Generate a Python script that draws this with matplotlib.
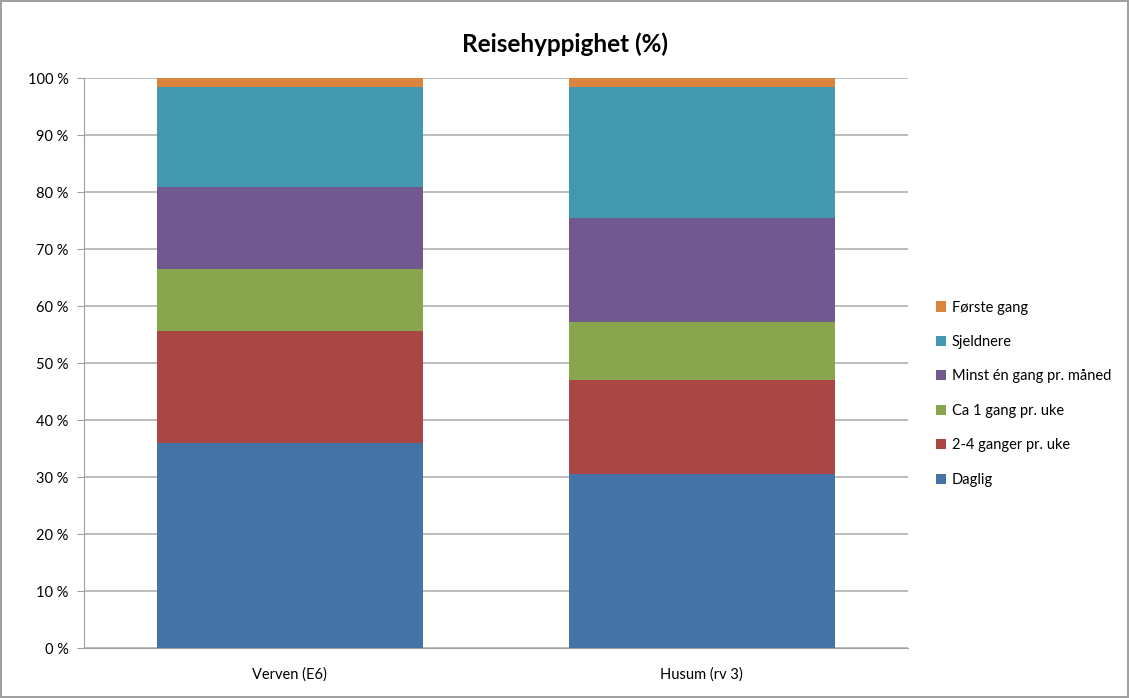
import numpy as np
import matplotlib.pyplot as plt
from matplotlib.ticker import FuncFormatter

# Data (prosent)
steder = ['Verven (E6)', 'Husum (rv 3)']
kategorier = ['Daglig', '2-4 ganger pr. uke', 'Ca 1 gang pr. uke',
              'Minst én gang pr. måned', 'Sjeldnere', 'Første gang']
verdier = {
    'Daglig': [36.0, 30.6],
    '2-4 ganger pr. uke': [19.6, 16.5],
    'Ca 1 gang pr. uke': [10.9, 10.1],
    'Minst én gang pr. måned': [14.5, 18.2],
    'Sjeldnere': [17.4, 23.0],
    'Første gang': [1.6, 1.6],
}
farger = ['#4572A7', '#AA4643', '#89A54E', '#71588F', '#4198AF', '#DB843D']

plt.rcParams['font.family'] = ['Lato', 'DejaVu Sans']

fig = plt.figure(figsize=(11.29, 6.98), dpi=100)
fig.patch.set_edgecolor('#A0A0A0')
fig.patch.set_linewidth(1.5)
ax = fig.add_axes([0.0744, 0.0712, 0.7296, 0.8168])

x = np.arange(len(steder))
bunn = np.zeros(len(steder))
for kat, farge in zip(kategorier, farger):
    v = np.array(verdier[kat])
    ax.bar(x, v, width=0.646, bottom=bunn, color=farge, label=kat, zorder=3)
    bunn += v

ax.set_xlim(-0.5, 1.5)
ax.set_ylim(0, 100)
ax.set_yticks(np.arange(0, 101, 10))
ax.yaxis.set_major_formatter(FuncFormatter(lambda v, p: f'{int(v)} %'))
ax.set_xticks(x)
ax.set_xticklabels(steder)
ax.grid(axis='y', color='#B0B0B0', linewidth=1.2, zorder=0)
for s in ['top', 'right']:
    ax.spines[s].set_visible(False)
ax.spines['left'].set_color('#A0A0A0')
ax.spines['bottom'].set_color('#A0A0A0')
ax.tick_params(axis='y', length=5, color='#A0A0A0', labelsize=10.5, pad=6)
ax.tick_params(axis='x', length=0, labelsize=10.5, pad=14)

fig.suptitle('Reisehyppighet (%)', x=0.5, y=0.953, fontsize=17.5, fontweight='bold')

h, l = ax.get_legend_handles_labels()
fig.legend(h[::-1], l[::-1], loc='center left', bbox_to_anchor=(0.817, 0.436),
           frameon=False, fontsize=10.5, handlelength=0.7, handleheight=0.7,
           handletextpad=0.4, labelspacing=1.4)

fig.savefig('out.png', dpi=100)
